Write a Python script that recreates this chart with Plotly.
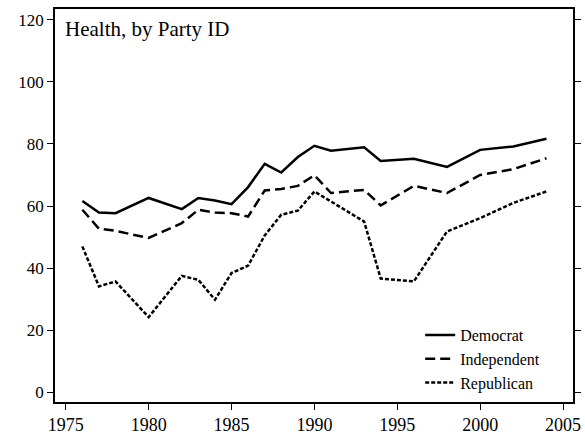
import plotly.graph_objects as go

# Survey years
years = [1976, 1977, 1978, 1980, 1982, 1983, 1984, 1985, 1986, 1987, 1988,
         1989, 1990, 1991, 1993, 1994, 1996, 1998, 2000, 2002, 2004]

# Percent saying spending on health is too little, by party identification
democrat = [61.6, 57.9, 57.7, 62.6, 59.0, 62.6, 61.8, 60.6, 66.1, 73.6, 70.8,
            75.8, 79.4, 77.8, 78.9, 74.5, 75.2, 72.6, 78.1, 79.2, 81.7]
independent = [58.8, 52.7, 52.0, 49.7, 54.5, 58.8, 57.9, 57.7, 56.6, 65.0, 65.5,
               66.5, 69.9, 64.2, 65.2, 60.2, 66.5, 64.2, 70.0, 71.9, 75.4]
republican = [47.0, 34.1, 35.7, 24.2, 37.5, 36.2, 29.8, 38.4, 40.8, 50.5, 57.2,
              58.5, 64.7, 61.5, 55.0, 36.6, 35.7, 51.8, 56.1, 61.0, 64.7]

y_ticks = [0, 20, 40, 60, 80, 100, 120]
x_ticks = [1975, 1980, 1985, 1990, 1995, 2000, 2005]

FONT = "Liberation Serif"

fig = go.Figure()
series = [
    ("Democrat", democrat, "solid"),
    ("Independent", independent, "10px,5px"),
    ("Republican", republican, "4px,2px"),
]
for name, vals, dash in series:
    fig.add_trace(go.Scatter(
        x=years, y=vals, name=name, mode="lines",
        line=dict(color="black", width=2.5, dash=dash),
    ))

fig.update_layout(
    width=585, height=437,
    margin=dict(l=55, r=12, t=9, b=35),
    paper_bgcolor="white", plot_bgcolor="white",
    font=dict(family=FONT, size=16, color="black"),
    showlegend=True,
    legend=dict(
        x=0.705, y=0.005, xanchor="left", yanchor="bottom",
        bgcolor="rgba(0,0,0,0)", borderwidth=0,
        font=dict(family=FONT, size=16, color="black"),
        tracegroupgap=0, itemwidth=30,
    ),
    annotations=[dict(
        text="Health, by Party ID", xref="paper", yref="paper",
        x=0.016, y=0.985, xanchor="left", yanchor="top", showarrow=False,
        font=dict(family=FONT, size=21, color="black"),
    )],
)

fig.update_xaxes(
    range=[1974.35, 2005.6], tickvals=x_ticks, ticks="outside", ticklen=6,
    tickcolor="black", showline=True, linecolor="black", linewidth=1.5,
    mirror=True, showgrid=False, zeroline=False, automargin=False,
    tickfont=dict(family=FONT, size=18, color="black"),
)
fig.update_yaxes(
    range=[-3.16, 123.5], tickvals=y_ticks, ticks="outside", ticklen=6,
    tickcolor="black", showline=True, linecolor="black", linewidth=1.5,
    mirror="ticks", showgrid=False, zeroline=False, automargin=False,
    tickfont=dict(family=FONT, size=17, color="black"),
)

fig.write_html("out.html")
